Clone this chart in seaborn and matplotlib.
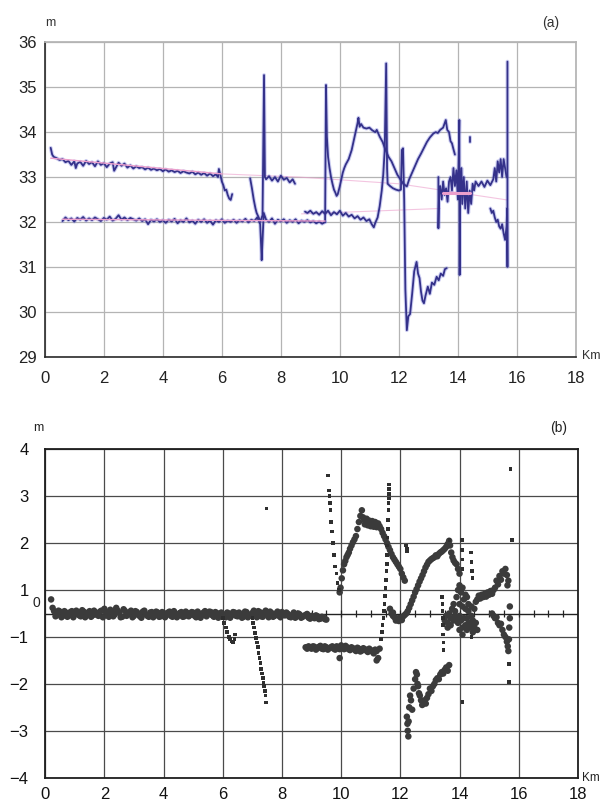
import matplotlib
matplotlib.use("Agg")
import numpy as np
import pandas as pd
import matplotlib.pyplot as plt
import seaborn as sns

# %% data ---------------------------------------------------------------
# (a) profile traces, km along line / elevation in m
a_upper = [(0.2, 33.65), (0.25, 33.5), (0.3, 33.45), (0.4, 33.42), (0.5, 33.38), (0.6, 33.40),
           (0.7, 33.33), (0.8, 33.36), (0.9, 33.27), (1.0, 33.35), (1.05, 33.2), (1.1, 33.30),
           (1.2, 33.34), (1.3, 33.25), (1.4, 33.36), (1.5, 33.29), (1.6, 33.33), (1.7, 33.24),
           (1.8, 33.35), (1.9, 33.27), (2.0, 33.31), (2.1, 33.22), (2.2, 33.30), (2.3, 33.33),
           (2.35, 33.14), (2.4, 33.20), (2.5, 33.32), (2.6, 33.25), (2.7, 33.30), (2.8, 33.21),
           (2.9, 33.26), (3.0, 33.19), (3.1, 33.24), (3.2, 33.20), (3.3, 33.22), (3.4, 33.17),
           (3.5, 33.21), (3.6, 33.16), (3.7, 33.19), (3.8, 33.15), (3.9, 33.18), (4.0, 33.13),
           (4.1, 33.17), (4.2, 33.12), (4.3, 33.15), (4.4, 33.11), (4.5, 33.14), (4.6, 33.09),
           (4.7, 33.13), (4.8, 33.10), (4.9, 33.08), (5.0, 33.12), (5.1, 33.06), (5.2, 33.10),
           (5.3, 33.05), (5.4, 33.09), (5.5, 33.03), (5.6, 33.08), (5.7, 33.02), (5.8, 33.06),
           (5.87, 33.0), (5.9, 33.18), (5.95, 33.05), (6.0, 32.9), (6.05, 32.82), (6.1, 32.7),
           (6.15, 32.72), (6.2, 32.6), (6.25, 32.52), (6.3, 32.49), (6.35, 32.62)]

a_lower = [(0.6, 32.02), (0.7, 32.10), (0.8, 32.04), (0.9, 32.08), (1.0, 32.01), (1.1, 32.09),
           (1.2, 32.05), (1.3, 32.11), (1.4, 32.03), (1.5, 32.08), (1.6, 32.04), (1.7, 32.10),
           (1.8, 32.06), (1.9, 32.02), (2.0, 32.09), (2.1, 32.05), (2.2, 32.12), (2.3, 32.03),
           (2.4, 32.07), (2.5, 32.15), (2.6, 32.05), (2.7, 32.10), (2.8, 32.04), (2.9, 32.09),
           (3.0, 32.06), (3.1, 32.03), (3.2, 32.08), (3.3, 32.02), (3.4, 32.06), (3.5, 31.95),
           (3.6, 32.05), (3.7, 32.01), (3.8, 32.06), (3.9, 32.00), (4.0, 32.04), (4.1, 31.98),
           (4.2, 32.05), (4.3, 32.01), (4.4, 32.07), (4.5, 31.97), (4.6, 32.04), (4.7, 32.00),
           (4.8, 32.08), (4.9, 31.99), (5.0, 32.03), (5.1, 31.96), (5.2, 32.05), (5.3, 32.00),
           (5.4, 32.06), (5.5, 31.98), (5.6, 32.03), (5.7, 31.94), (5.8, 32.04), (5.9, 32.00),
           (6.0, 32.06), (6.1, 31.98), (6.2, 32.03), (6.3, 32.00), (6.4, 32.05), (6.5, 31.98),
           (6.6, 32.04), (6.7, 32.01), (6.8, 32.07), (6.9, 31.99), (7.0, 32.05), (7.1, 32.02),
           (7.2, 32.10), (7.3, 31.95), (7.33, 31.5), (7.35, 31.15), (7.38, 31.6), (7.42, 32.2),
           (7.5, 32.05), (7.6, 32.00), (7.7, 32.08), (7.8, 31.96), (7.9, 32.05), (8.0, 32.01),
           (8.1, 32.06), (8.2, 31.98), (8.3, 32.04), (8.4, 32.00), (8.5, 32.06), (8.6, 31.97),
           (8.7, 32.03), (8.8, 32.00), (8.9, 32.04), (9.0, 31.99), (9.1, 32.02), (9.2, 31.97),
           (9.3, 32.01), (9.4, 31.96), (9.5, 32.00)]

a_mid = [(6.96, 32.97), (7.02, 32.75), (7.08, 32.5), (7.14, 32.3), (7.18, 32.2), (7.25, 32.1),
         (7.3, 32.0), (7.38, 32.15), (7.43, 35.27), (7.46, 33.0), (7.5, 32.95), (7.6, 33.02),
         (7.7, 32.92), (7.8, 33.0), (7.9, 32.9), (8.0, 33.03), (8.1, 32.94), (8.2, 32.98),
         (8.3, 32.88), (8.4, 32.95), (8.48, 32.85)]

a_arc = [(9.5, 32.0), (9.53, 35.05), (9.56, 33.9), (9.6, 33.45), (9.65, 33.2), (9.7, 33.0),
         (9.75, 32.85), (9.8, 32.72), (9.85, 32.65), (9.89, 32.58), (9.93, 32.62), (10.0, 32.8),
         (10.05, 32.95), (10.1, 33.1), (10.15, 33.2), (10.2, 33.28), (10.3, 33.4), (10.4, 33.6),
         (10.45, 33.75), (10.5, 33.9), (10.55, 34.05), (10.6, 34.2), (10.63, 34.32), (10.67, 34.12),
         (10.72, 34.18), (10.8, 34.1), (10.9, 34.08), (11.0, 34.1), (11.1, 34.04), (11.2, 34.0),
         (11.25, 34.05), (11.35, 33.9), (11.45, 33.78), (11.55, 33.6), (11.65, 33.45), (11.75, 33.35),
         (11.85, 33.2), (11.95, 33.05), (12.05, 32.95), (12.15, 32.85), (12.27, 32.79), (12.35, 32.95),
         (12.45, 33.1), (12.55, 33.25), (12.65, 33.4), (12.75, 33.52), (12.85, 33.65), (12.95, 33.78),
         (13.05, 33.88), (13.17, 33.97), (13.25, 34.0), (13.32, 33.98), (13.4, 34.05), (13.5, 34.1),
         (13.59, 34.27), (13.64, 34.05), (13.7, 34.0), (13.75, 33.8), (13.8, 33.75), (13.85, 33.62),
         (13.9, 33.5)]

a_second = [(8.82, 32.23), (8.9, 32.2), (9.0, 32.25), (9.1, 32.18), (9.2, 32.22), (9.3, 32.16),
            (9.4, 32.24), (9.5, 32.18), (9.6, 32.25), (9.7, 32.15), (9.8, 32.22), (9.9, 32.17),
            (10.0, 32.25), (10.1, 32.14), (10.2, 32.2), (10.3, 32.12), (10.4, 32.16), (10.5, 32.08),
            (10.6, 32.13), (10.7, 32.05), (10.8, 32.1), (10.9, 32.02), (11.0, 32.06), (11.08, 31.95),
            (11.15, 31.88), (11.2, 31.98), (11.28, 32.1), (11.35, 32.35), (11.42, 32.7), (11.47, 33.05),
            (11.52, 33.6), (11.57, 35.53), (11.6, 33.2), (11.62, 32.85), (11.7, 32.8), (11.8, 32.75),
            (11.9, 32.72), (12.0, 32.7), (12.07, 32.72), (12.1, 33.6), (12.14, 33.64), (12.18, 32.5),
            (12.22, 30.5), (12.27, 29.59), (12.32, 29.9), (12.38, 29.95), (12.45, 30.4), (12.52, 30.9),
            (12.6, 31.11), (12.65, 30.85), (12.7, 30.75), (12.75, 30.45), (12.8, 30.25), (12.85, 30.19),
            (12.9, 30.35), (12.98, 30.56), (13.05, 30.4), (13.12, 30.65), (13.2, 30.6), (13.28, 30.78),
            (13.35, 30.7), (13.42, 30.85), (13.5, 30.8), (13.56, 30.95), (13.62, 30.97)]

a_cluster = [(13.34, 33.0), (13.34, 31.86), (13.36, 32.6), (13.4, 32.8), (13.45, 32.5), (13.5, 32.9),
             (13.55, 32.6), (13.6, 32.75), (13.65, 32.45), (13.7, 32.9), (13.75, 33.0), (13.8, 32.7),
             (13.85, 33.2), (13.9, 32.8), (13.95, 33.15), (14.0, 32.5), (14.05, 34.27), (14.06, 30.82),
             (14.08, 32.6), (14.12, 33.2), (14.15, 32.4), (14.2, 33.0), (14.25, 32.3), (14.3, 32.9),
             (14.35, 32.2), (14.4, 32.7), (14.45, 32.4), (14.5, 32.85), (14.55, 32.7), (14.6, 32.9),
             (14.7, 32.8), (14.8, 32.9), (14.9, 32.78), (15.0, 32.92), (15.1, 32.82), (15.2, 32.95),
             (15.25, 33.2), (15.3, 32.9), (15.35, 33.35), (15.4, 33.1), (15.45, 33.4), (15.5, 33.0),
             (15.55, 33.4), (15.6, 33.2), (15.65, 33.0)]

a_tail = [(15.1, 32.3), (15.15, 32.2), (15.2, 32.25), (15.25, 32.1), (15.3, 32.0), (15.35, 32.05),
          (15.4, 31.9), (15.45, 31.85), (15.5, 31.95), (15.55, 31.75), (15.6, 31.6), (15.65, 31.9),
          (15.67, 32.3), (15.68, 31.0), (15.68, 35.57)]

a_dash = [(14.41, 33.9), (14.41, 33.78)]

# (a) pink trend lines
a_trend_up = [(0.2, 33.42), (6.0, 33.07)]
a_trend_up_far = [(6.0, 33.07), (8.6, 33.0), (12.0, 32.85), (15.67, 32.49)]
a_trend_low = [(0.6, 32.06), (9.5, 32.02)]
a_trend_low_far = [(8.7, 32.18), (13.4, 32.3)]
a_trend_bar = [(13.5, 32.65), (14.4, 32.65)]

# (b) difference points; vertical values in the chart's own grid units
# (grid at +-0.5, +-1.5 ... carries the printed labels 1, 2 ...)
b_band = [(0.2, 0.30), (0.25, 0.12), (0.3, 0.05), (0.4, -0.03), (0.5, 0.04), (0.6, -0.05),
          (0.7, 0.02), (0.8, -0.04), (0.9, 0.05), (1.0, -0.02), (1.1, 0.03), (1.2, -0.06),
          (1.3, 0.04), (1.4, -0.01), (1.5, 0.05), (1.6, -0.04), (1.7, 0.02), (1.8, -0.05),
          (1.9, 0.06), (2.0, 0.10), (2.1, -0.03), (2.2, 0.08), (2.3, -0.06), (2.4, 0.12),
          (2.5, 0.02), (2.6, -0.07), (2.7, 0.05), (2.8, -0.02), (2.9, 0.06), (3.0, -0.05),
          (3.1, 0.03), (3.2, -0.06), (3.3, 0.04), (3.4, -0.02), (3.5, -0.07), (3.6, 0.03),
          (3.7, -0.04), (3.8, 0.02), (3.9, -0.06), (4.0, 0.01), (4.1, -0.03), (4.2, 0.04),
          (4.3, -0.07), (4.4, 0.00), (4.5, -0.04), (4.6, 0.03), (4.7, -0.06), (4.8, 0.01),
          (4.9, -0.03), (5.0, 0.02), (5.1, -0.08), (5.2, 0.00), (5.3, -0.04), (5.4, 0.05),
          (5.5, -0.02), (5.6, 0.03), (5.7, -0.07), (5.8, 0.01), (5.9, -0.05), (6.0, -0.02),
          (6.1, -0.08), (6.2, 0.00), (6.3, -0.04), (6.4, 0.02), (6.5, -0.06), (6.6, -0.01),
          (6.7, -0.07), (6.8, 0.03), (6.9, -0.05), (7.0, 0.01), (7.1, -0.04), (7.2, 0.05),
          (7.3, -0.06), (7.4, 0.02), (7.5, -0.03), (7.6, 0.04), (7.7, -0.07), (7.8, 0.00),
          (7.9, -0.05), (8.0, 0.03), (8.1, -0.04), (8.2, -0.01), (8.3, -0.08), (8.4, 0.02),
          (8.5, -0.06), (8.6, -0.02), (8.7, -0.07), (8.8, -0.03), (8.9, -0.09), (9.0, -0.05),
          (9.1, -0.10), (9.2, -0.06), (9.3, -0.11), (9.4, -0.08), (9.5, -0.13),
          (0.35, -0.06), (0.45, 0.06), (0.55, -0.08), (0.65, 0.05), (0.75, -0.07), (0.85, 0.03),
          (0.95, -0.08), (1.05, 0.06), (1.15, -0.04), (1.25, 0.07), (1.35, -0.08), (1.45, 0.02),
          (1.55, -0.07), (1.65, 0.06), (1.75, -0.03), (1.85, 0.04), (1.95, -0.08), (2.05, 0.03),
          (2.15, -0.07), (2.25, 0.05), (2.35, -0.02), (2.45, 0.06), (2.55, -0.08), (2.65, 0.09),
          (2.75, -0.05), (2.85, 0.02), (2.95, -0.08), (3.05, 0.05), (3.15, -0.02), (3.25, -0.09),
          (3.35, 0.06), (3.45, -0.05), (3.55, 0.02), (3.65, -0.08), (3.75, 0.04), (3.85, -0.07),
          (3.95, 0.03), (4.05, -0.08), (4.15, 0.02), (4.25, -0.05), (4.35, 0.05), (4.45, -0.08),
          (4.55, 0.01), (4.65, -0.07), (4.75, 0.04), (4.85, -0.06), (4.95, 0.03), (5.05, -0.05),
          (5.15, 0.04), (5.25, -0.09), (5.35, 0.02), (5.45, -0.06), (5.55, 0.04), (5.65, -0.04),
          (5.75, 0.03), (5.85, -0.09), (5.95, 0.02), (6.05, -0.06), (6.15, 0.02), (6.25, -0.09),
          (6.35, 0.03), (6.45, -0.05), (6.55, 0.02), (6.65, -0.09), (6.75, 0.04), (6.85, -0.08),
          (6.95, -0.02), (7.05, 0.06), (7.15, -0.08), (7.25, 0.03), (7.35, -0.07), (7.45, 0.06),
          (7.55, -0.08), (7.65, 0.01), (7.75, -0.05), (7.85, 0.04), (7.95, -0.08), (8.05, -0.01),
          (8.15, 0.02), (8.25, -0.07), (8.35, -0.03), (8.45, -0.09), (8.55, 0.00), (8.65, -0.09),
          (8.75, -0.05), (8.85, -0.01), (8.95, -0.11), (9.05, -0.07), (9.15, -0.04), (9.25, -0.12),
          (9.35, -0.07), (9.45, -0.12)]

b_lower_band = [(8.8, -0.72), (8.9, -0.70), (9.0, -0.75), (9.1, -0.71), (9.2, -0.74), (9.3, -0.69),
                (9.4, -0.76), (9.5, -0.72), (9.6, -0.74), (9.7, -0.70), (9.8, -0.77), (9.9, -0.73),
                (10.0, -0.68), (10.1, -0.76), (10.2, -0.72), (10.3, -0.78), (10.4, -0.74), (10.5, -0.80),
                (10.6, -0.75), (10.7, -0.79), (10.8, -0.76), (10.9, -0.82), (11.0, -0.78), (11.1, -0.85),
                (11.2, -0.80), (11.25, -0.95), (11.3, -0.75), (9.95, -0.95), (11.2, -1.0),
                (8.85, -0.75), (8.95, -0.73), (9.05, -0.70), (9.15, -0.77), (9.25, -0.71), (9.35, -0.75),
                (9.45, -0.70), (9.55, -0.77), (9.65, -0.72), (9.75, -0.75), (9.85, -0.70), (9.95, -0.76),
                (10.05, -0.73), (10.15, -0.69), (10.25, -0.76), (10.35, -0.72), (10.45, -0.77),
                (10.55, -0.73), (10.65, -0.81), (10.75, -0.74), (10.85, -0.79), (10.95, -0.75),
                (11.05, -0.81), (11.15, -0.77)]

b_trough = [(11.65, 0.1), (11.7, 0.0), (11.75, -0.05), (11.8, -0.08), (11.85, -0.1), (11.9, -0.12),
            (11.95, -0.1), (12.0, -0.11), (12.05, -0.08), (12.1, -0.06), (12.15, -0.03), (12.2, 0.0),
            (12.25, 0.05), (12.3, 0.12), (12.35, 0.2), (12.4, 0.28), (12.45, 0.36), (12.5, 0.45),
            (12.55, 0.52), (12.6, 0.6), (12.65, 0.68), (12.7, 0.75), (12.75, 0.82), (12.8, 0.9),
            (12.85, 0.98), (12.9, 1.04), (12.95, 1.1), (13.0, 1.13), (13.05, 1.16), (13.1, 1.18),
            (13.15, 1.2), (13.2, 1.24), (13.25, 1.22), (13.3, 1.27), (13.35, 1.3), (13.4, 1.32),
            (13.45, 1.35), (13.5, 1.38), (13.55, 1.42), (13.6, 1.48), (13.65, 1.55), (13.68, 1.45),
            (13.72, 1.3), (13.76, 1.2), (13.8, 1.13), (13.85, 1.08), (13.9, 1.05), (13.95, 0.95),
            (14.0, 0.85), (11.75, 0.02), (11.85, -0.15), (11.95, -0.16), (12.05, -0.14)]

b_arc = [(9.95, 0.45), (9.98, 0.55), (10.02, 0.75), (10.06, 0.92), (10.1, 1.05), (10.14, 1.12),
         (10.18, 1.2), (10.22, 1.25), (10.26, 1.3), (10.3, 1.38), (10.35, 1.45), (10.4, 1.52),
         (10.45, 1.58), (10.5, 1.65), (10.55, 1.8), (10.6, 1.95), (10.65, 2.08), (10.7, 2.2),
         (10.74, 2.05), (10.78, 2.0), (10.82, 1.97), (10.86, 2.02), (10.9, 1.95), (10.95, 1.98),
         (11.0, 1.93), (11.05, 1.97), (11.1, 1.92), (11.15, 1.95), (11.2, 1.9), (11.25, 1.92),
         (11.3, 1.86), (11.35, 1.8), (11.4, 1.72), (11.45, 1.65), (11.5, 1.58), (11.55, 1.5),
         (11.6, 1.42), (11.65, 1.35), (11.7, 1.27), (11.75, 1.2), (11.8, 1.15), (11.85, 1.1),
         (11.9, 1.05), (11.95, 1.0), (12.0, 0.95), (12.05, 0.85), (12.1, 0.77), (12.15, 0.7),
         (10.8, 1.9), (10.9, 1.88), (11.0, 1.86), (11.1, 1.85), (11.2, 1.84)]

b_lower_left = [(12.22, -2.2), (12.24, -2.35), (12.25, -2.5), (12.27, -2.62), (12.28, -2.3),
                (12.3, -2.0), (12.33, -1.75), (12.36, -1.85), (12.4, -2.05), (12.45, -1.6),
                (12.5, -1.4), (12.53, -1.25), (12.56, -1.3), (12.58, -1.5), (12.6, -1.55),
                (12.63, -1.7), (12.66, -1.75), (12.7, -1.85), (12.74, -1.95), (12.78, -1.9),
                (12.82, -1.85), (12.86, -1.92), (12.9, -1.8), (12.95, -1.72), (13.0, -1.6),
                (13.05, -1.65), (13.1, -1.55), (13.15, -1.5), (13.2, -1.42), (13.25, -1.38),
                (13.3, -1.4), (13.35, -1.3), (13.4, -1.25), (13.45, -1.28), (13.5, -1.2),
                (13.55, -1.15), (13.6, -1.22), (13.65, -1.1)]

b_cluster = [(13.5, -0.15), (13.55, -0.05), (13.6, -0.2), (13.65, 0.0), (13.7, -0.1), (13.75, 0.1),
             (13.8, 0.2), (13.85, 0.05), (13.9, 0.35), (13.95, 0.5), (14.0, 0.6), (14.05, 0.45),
             (14.1, 0.55), (14.15, 0.3), (14.2, 0.1), (14.25, -0.1), (14.3, 0.05), (14.35, -0.2),
             (14.4, -0.05), (14.45, -0.15), (14.5, 0.1), (14.55, 0.25), (13.6, -0.3), (13.7, -0.25),
             (13.8, -0.15), (13.9, -0.1), (13.95, -0.2), (14.0, -0.05), (14.05, -0.15), (14.1, -0.3),
             (14.15, -0.1), (14.2, -0.25), (14.25, -0.35), (14.3, -0.2), (14.35, -0.3), (14.4, -0.25),
             (14.45, -0.4), (14.5, -0.3), (14.55, -0.2), (14.6, -0.35), (14.0, 0.2), (14.1, 0.15),
             (14.2, 0.4), (14.25, 0.35), (14.3, 0.2), (14.4, 0.15), (13.85, -0.05), (14.0, -0.35),
             (14.1, -0.45)]

b_right = [(14.6, 0.3), (14.65, 0.38), (14.7, 0.32), (14.75, 0.4), (14.8, 0.35), (14.85, 0.42),
           (14.9, 0.36), (14.95, 0.45), (15.0, 0.4), (15.05, 0.48), (15.1, 0.42), (15.15, 0.5),
           (15.2, 0.55), (15.25, 0.7), (15.3, 0.62), (15.35, 0.8), (15.4, 0.72), (15.45, 0.9),
           (15.5, 0.85), (15.55, 0.95), (15.6, 0.82), (15.65, 0.7), (15.62, 0.6),
           (15.1, 0.0), (15.15, -0.05), (15.2, -0.1), (15.25, -0.08), (15.3, -0.2), (15.35, -0.25),
           (15.4, -0.22), (15.45, -0.35), (15.5, -0.45), (15.55, -0.5), (15.6, -0.6), (15.63, -0.7),
           (15.65, -0.8), (15.67, -0.55), (15.68, -0.3), (15.7, -0.1), (15.7, 0.15)]

# sparse dotted runs and stray points
b_sparse = [(6.0, -0.1), (6.05, -0.2), (6.1, -0.3), (6.15, -0.4), (6.2, -0.5), (6.25, -0.55),
            (6.3, -0.6), (6.35, -0.62), (6.4, -0.55), (6.42, -0.45),
            (7.0, -0.1), (7.03, -0.2), (7.06, -0.3), (7.09, -0.42), (7.12, -0.52), (7.15, -0.62),
            (7.18, -0.72), (7.21, -0.84), (7.24, -0.95), (7.27, -1.05), (7.3, -1.18), (7.33, -1.28),
            (7.36, -1.38), (7.38, -1.48), (7.4, -1.55), (7.42, -1.65), (7.44, -1.75), (7.46, -1.9),
            (7.48, 2.24),
            (9.56, 2.94), (9.6, 2.62), (9.61, 2.5), (9.62, 2.35), (9.64, 2.2), (9.66, 1.95),
            (9.68, 1.75), (9.72, 1.5), (9.76, 1.25), (9.8, 1.0), (9.84, 0.85), (9.88, 0.65),
            (9.92, 0.5),
            (11.35, -0.55), (11.38, -0.4), (11.4, -0.25), (11.43, -0.1), (11.45, 0.05), (11.47, 0.2),
            (11.49, 0.38), (11.5, 0.55), (11.52, 0.72), (11.53, 0.9), (11.54, 1.05), (11.55, 1.25),
            (11.56, 1.45), (11.57, 1.62), (11.58, 1.8), (11.59, 2.0), (11.6, 2.2), (11.6, 2.35),
            (11.61, 2.45), (11.61, 2.55), (11.62, 2.65), (11.62, 2.75),
            (12.2, 1.45), (12.22, 1.38), (12.23, 1.32),
            (13.4, 0.35), (13.42, 0.2), (13.43, 0.05), (13.44, -0.1), (13.45, -0.25), (13.45, -0.45),
            (13.46, -0.62), (13.46, -0.78),
            (13.66, 1.56), (14.08, 1.56), (14.09, 1.35), (14.1, 1.15), (14.1, 0.95),
            (14.38, 1.3), (14.4, 1.1), (14.42, 0.9), (14.44, 0.75), (14.41, -0.5), (14.1, -1.89),
            (15.72, 3.08), (15.77, 1.56), (15.68, -1.07), (15.68, -1.46)]

a_xticks = [0, 2, 4, 6, 8, 10, 12, 14, 16, 18]
a_yticks = [29, 30, 31, 32, 33, 34, 35, 36]
b_ytick_pos = [-3.5, -2.5, -1.5, -0.5, 0.5, 1.5, 2.5, 3.5]
b_ytick_labels = ["\u22124", "\u22123", "\u22122", "\u22121", "1", "2", "3", "4"]


def to_frame(named):
    rows = []
    for name, pts in named.items():
        for km, val in pts:
            rows.append((name, km, val))
    return pd.DataFrame(rows, columns=["seg", "km", "val"])


traces = to_frame({"upper": a_upper, "lower": a_lower, "mid": a_mid, "arc": a_arc,
                   "second": a_second, "cluster": a_cluster, "tail": a_tail, "dash": a_dash})
trends = to_frame({"t1": a_trend_up, "t3": a_trend_low})
trends_far = to_frame({"t2": a_trend_up_far, "t4": a_trend_low_far})
dense = to_frame({"band": b_band, "lowband": b_lower_band, "trough": b_trough, "arc": b_arc,
                  "ll": b_lower_left, "cl": b_cluster, "r": b_right})
sparse = to_frame({"sp": b_sparse})

# %% plot ---------------------------------------------------------------
sns.set_theme(style="white")
plt.rcParams["font.family"] = ["Liberation Sans", "DejaVu Sans"]

W, H = 600, 805
fig = plt.figure(figsize=(W / 100, H / 100), dpi=100)
fig.patch.set_facecolor("white")

ax_a = fig.add_axes([44.8 / W, 1 - 356.7 / H, 531.1 / W, 314.4 / H])
ax_b = fig.add_axes([45.2 / W, 1 - 777.7 / H, 532.7 / W, 328.4 / H])

navy = "#34318a"
pink = "#ec9fcc"

# ---- (a)
sns.lineplot(data=trends_far, x="km", y="val", units="seg", estimator=None, sort=False,
             color=pink, lw=0.8, alpha=0.6, ax=ax_a)
sns.lineplot(data=traces, x="km", y="val", units="seg", estimator=None, sort=False,
             color="#6f73d8", lw=2.8, alpha=0.35, ax=ax_a)
sns.lineplot(data=traces, x="km", y="val", units="seg", estimator=None, sort=False,
             color=navy, lw=1.3, ax=ax_a)
sns.lineplot(data=trends, x="km", y="val", units="seg", estimator=None, sort=False,
             color=pink, lw=1.0, ax=ax_a)
sns.lineplot(data=to_frame({"bar": a_trend_bar}), x="km", y="val", units="seg", estimator=None,
             sort=False, color=pink, lw=2.2, ax=ax_a)

ax_a.set_xlim(0, 18)
ax_a.set_ylim(29, 36)
ax_a.set_xticks(a_xticks)
ax_a.set_yticks(a_yticks)
ax_a.grid(True, color="#b4b4b4", lw=0.9)
ax_a.set_axisbelow(True)
for side in ["top", "right"]:
    ax_a.spines[side].set_color("#b4b4b4")
for side in ["left", "bottom"]:
    ax_a.spines[side].set_color("#2a2a2a")
    ax_a.spines[side].set_linewidth(1.2)
ax_a.tick_params(axis="x", length=0, pad=10, labelsize=12, colors="#222222")
ax_a.tick_params(axis="y", length=0, pad=6, labelsize=12, colors="#222222")
ax_a.set_xlabel("")
ax_a.set_ylabel("")

# ---- (b)
ax_b.axhline(0, color="#222222", lw=1.0, zorder=1)
ax_b.vlines(np.arange(0.5, 18, 0.5), -0.07, 0.07, color="#222222", lw=0.9, zorder=1)
sns.scatterplot(data=dense, x="km", y="val", color="#3b3b3b", s=22, marker="o",
                edgecolor="none", legend=False, ax=ax_b, zorder=3)
sns.scatterplot(data=sparse, x="km", y="val", color="#2f2f2f", s=7, marker="s",
                edgecolor="none", legend=False, ax=ax_b, zorder=3)

ax_b.set_xlim(0, 18)
ax_b.set_ylim(-3.5, 3.5)
ax_b.set_xticks(a_xticks)
ax_b.set_yticks(b_ytick_pos)
ax_b.set_yticklabels(b_ytick_labels)
ax_b.grid(True, color="#4a4a4a", lw=0.9)
ax_b.set_axisbelow(True)
for side in ax_b.spines:
    ax_b.spines[side].set_color("#1e1e1e")
    ax_b.spines[side].set_linewidth(1.3)
ax_b.tick_params(axis="x", length=0, pad=7, labelsize=12, colors="#111111")
ax_b.tick_params(axis="y", length=0, pad=12, labelsize=12, colors="#111111")
ax_b.set_xlabel("")
ax_b.set_ylabel("")

# ---- labels around panels
def ftext(x, y, s, **kw):
    fig.text(x / W, 1 - y / H, s, va="center", **kw)

ftext(50, 23, "m", ha="center", fontsize=9, color="#333333")
ftext(551, 23, "(a)", ha="center", fontsize=10, color="#333333")
ftext(582, 356, "Km", ha="left", fontsize=9, color="#333333")
ftext(38, 428, "m", ha="center", fontsize=9, color="#222222")
ftext(559, 428, "(b)", ha="center", fontsize=10, color="#222222")
ftext(582, 778, "Km", ha="left", fontsize=8.5, color="#222222")
ftext(36, 603, "0", ha="center", fontsize=10, color="#222222")

fig.savefig("out.png", dpi=100, facecolor="white")
